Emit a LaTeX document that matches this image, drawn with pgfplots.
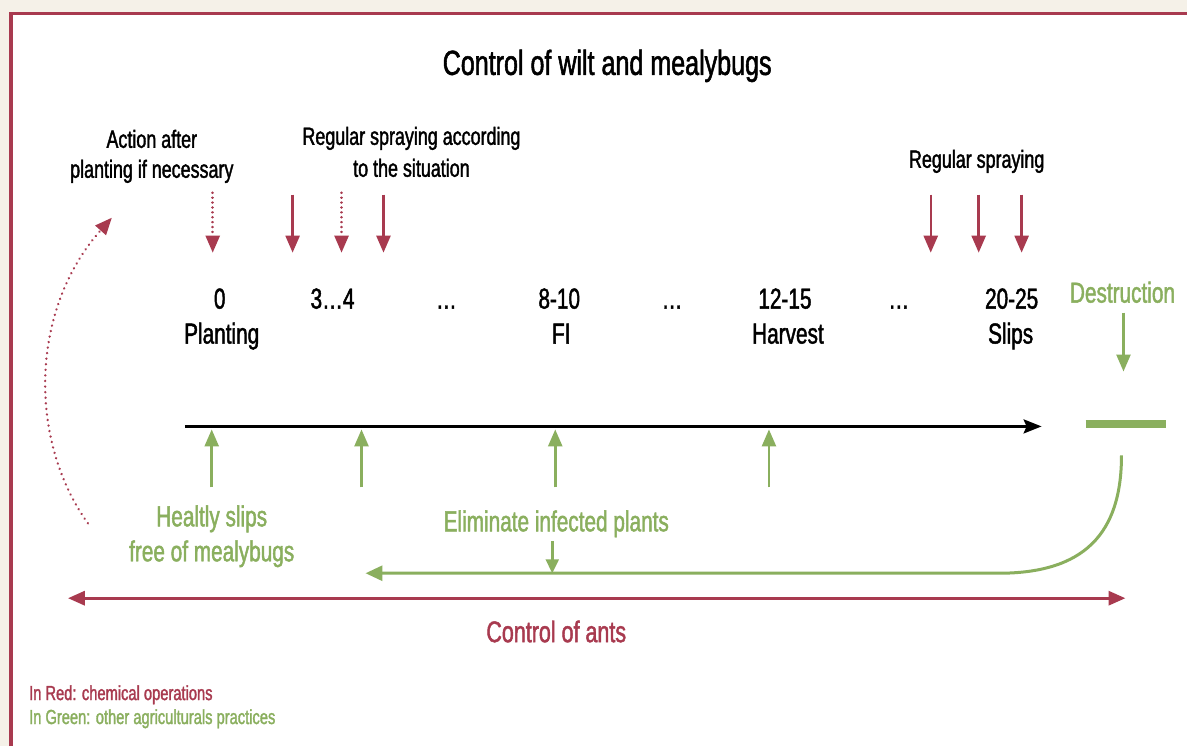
\documentclass[border=0pt]{standalone}
\usepackage{fontspec}
\setmainfont{Liberation Sans}[FakeStretch=0.72,FakeBold=1.5]
\usepackage{pgfplots}
\pgfplotsset{compat=1.18}
\usetikzlibrary{arrows.meta}
\definecolor{cred}{HTML}{A83A4F}
\definecolor{cgreen}{HTML}{8AAF5E}
\definecolor{cbg}{HTML}{F5F1E8}
\newcommand{\fs}[1]{\fontsize{#1}{#1}\selectfont}
\tikzset{rtip/.style={-{Triangle[length=17bp,width=14bp]}}}
\begin{document}
\begin{tikzpicture}
\begin{axis}[width=1189bp,height=747bp,scale only axis,
  xmin=0,xmax=1189,ymin=0,ymax=747,y dir=reverse,hide axis,clip=false]
% background and frame
\fill[cbg] (axis cs:0,0) rectangle (axis cs:1189,747);
\fill[white] (axis cs:11,13) rectangle (axis cs:1189,747);
\draw[cred, line width=3.2bp] (axis cs:11,747) -- (axis cs:11,13.5) -- (axis cs:1189,13.5);
% title
\node[anchor=base, font=\fs{35}] at (axis cs:608,75) {Control of wilt and mealybugs};
% top annotations
\node[anchor=base, font=\fs{25}] at (axis cs:152,148) {Action after};
\node[anchor=base, font=\fs{25}] at (axis cs:152,178) {planting if necessary};
\node[anchor=base, font=\fs{25}] at (axis cs:412,145) {Regular spraying according};
\node[anchor=base, font=\fs{25}] at (axis cs:412,177) {to the situation};
\node[anchor=base, font=\fs{25}] at (axis cs:978,168) {Regular spraying};
% red arrows (solid)
\addplot[cred, no marks, line width=2.5bp, rtip] coordinates {(293,195) (293,253)};
\addplot[cred, no marks, line width=2.5bp, rtip] coordinates {(384,195) (384,253)};
\addplot[cred, no marks, line width=2.5bp, rtip] coordinates {(932,195) (932,253)};
\addplot[cred, no marks, line width=2.5bp, rtip] coordinates {(980,195) (980,253)};
\addplot[cred, no marks, line width=2.5bp, rtip] coordinates {(1023,195) (1023,253)};
% red arrows (dotted)
\addplot[cred, no marks, line width=2.5bp, line cap=round, dash pattern=on 0.1bp off 4.8bp, rtip] coordinates {(213,193) (213,253)};
\addplot[cred, no marks, line width=2.5bp, line cap=round, dash pattern=on 0.1bp off 4.8bp, rtip] coordinates {(342,193) (342,253)};
% curved dotted arrow on the left
\draw[cred, line width=2.5bp, line cap=round, dash pattern=on 0.1bp off 5.5bp, -{Triangle[length=17bp,width=14bp]}]
  (axis cs:88,524) .. controls (axis cs:28,440) and (axis cs:30,310) .. (axis cs:112,218);
% timeline labels
\node[anchor=base, font=\fs{29}] at (axis cs:220,309) {0};
\node[anchor=base, font=\fs{29}] at (axis cs:333,309) {3…4};
\node[anchor=base, font=\fs{29}] at (axis cs:447,309) {…};
\node[anchor=base, font=\fs{29}] at (axis cs:560,309) {8-10};
\node[anchor=base, font=\fs{29}] at (axis cs:673,309) {…};
\node[anchor=base, font=\fs{29}] at (axis cs:786,309) {12-15};
\node[anchor=base, font=\fs{29}] at (axis cs:900,309) {…};
\node[anchor=base, font=\fs{29}] at (axis cs:1013,309) {20-25};
\node[anchor=base, font=\fs{29}] at (axis cs:222,344) {Planting};
\node[anchor=base, font=\fs{29}] at (axis cs:562,344) {FI};
\node[anchor=base, font=\fs{29}] at (axis cs:789,344) {Harvest};
\node[anchor=base, font=\fs{29}] at (axis cs:1012,344) {Slips};
\node[anchor=base, font=\fs{29}, text=cgreen] at (axis cs:1124,303) {Destruction};
% destruction arrow and bar
\addplot[cgreen, no marks, line width=2.5bp, rtip] coordinates {(1125,313) (1125,372)};
\addplot[cgreen, no marks, line width=8bp] coordinates {(1087,425) (1168,425)};
% main timeline
\addplot[black, no marks, line width=2.7bp, -{Stealth[length=18bp,width=14bp,inset=3bp]}] coordinates {(185,427) (1043,427)};
% green up arrows
\addplot[cgreen, no marks, line width=2.5bp, rtip] coordinates {(212,488) (212,430)};
\addplot[cgreen, no marks, line width=2.5bp, rtip] coordinates {(362,488) (362,430)};
\addplot[cgreen, no marks, line width=2.5bp, rtip] coordinates {(556,488) (556,430)};
\addplot[cgreen, no marks, line width=2.5bp, rtip] coordinates {(770,488) (770,430)};
% green texts
\node[anchor=base, font=\fs{29}, text=cgreen] at (axis cs:212,527) {Healtly slips};
\node[anchor=base, font=\fs{29}, text=cgreen] at (axis cs:212,562) {free of mealybugs};
\node[anchor=base, font=\fs{29}, text=cgreen] at (axis cs:557,532) {Eliminate infected plants};
% small green arrow and return line
\addplot[cgreen, no marks, line width=2.5bp, -{Triangle[length=14bp,width=13bp]}] coordinates {(553,542) (553,574)};
\draw[cgreen, line width=3bp, -{Triangle[length=17bp,width=15bp]}]
  (axis cs:1123,456) .. controls (axis cs:1123,535) and (axis cs:1085,574) .. (axis cs:1000,574) -- (axis cs:366,574);
% control of ants
\addplot[cred, no marks, line width=3.2bp, {Triangle[length=17bp,width=14bp]}-{Triangle[length=17bp,width=14bp]}] coordinates {(68,599) (1127,599)};
\node[anchor=base, font=\fs{30}, text=cred] at (axis cs:557,643) {Control of ants};
% legend notes
\node[anchor=base west, font=\fs{20.5}, text=cred, inner sep=0pt] at (axis cs:29,701) {In Red: chemical operations};
\node[anchor=base west, font=\fs{20.5}, text=cgreen, inner sep=0pt] at (axis cs:29,725) {In Green: other agriculturals practices};
\end{axis}
\end{tikzpicture}
\end{document}
